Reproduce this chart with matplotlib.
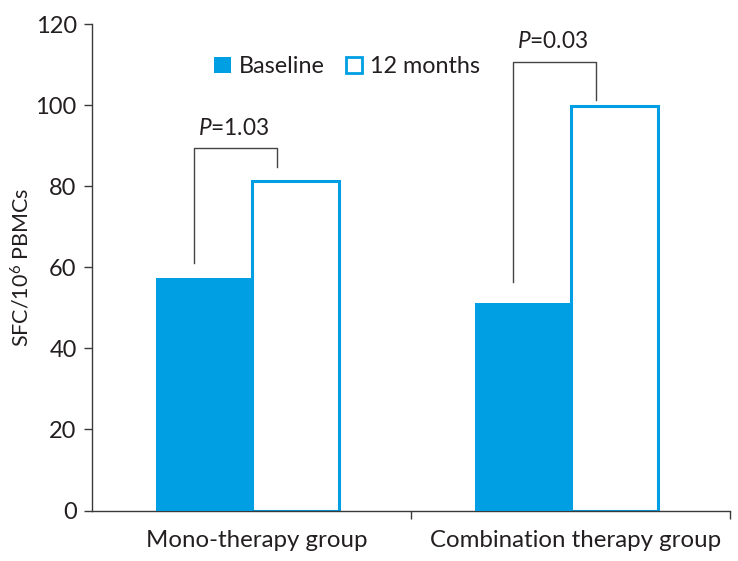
import numpy as np
import matplotlib.pyplot as plt
from matplotlib.patches import Patch

# ----------------------------
# Data
# ----------------------------

groups = ['Mono-therapy group', 'Combination therapy group']
baseline = [57.3, 51.1]
months12 = [81.3, 99.8]
series_names = ['Baseline', '12 months']
p_labels = ['1.03', '0.03']

# bracket levels (left foot, top, right foot) for each group
bracket_left = [61.0, 56.4]
bracket_top = [89.5, 110.6]
bracket_right = [84.7, 101.3]
p_text_y = [94.3, 115.6]

y_ticks = [0, 20, 40, 60, 80, 100, 120]

# ----------------------------
# Style
# ----------------------------

blue = '#009fe3'
dark = '#231f20'
axcol = '#3a3a3a'

plt.rcParams['font.family'] = ['Lato', 'DejaVu Sans']
plt.rcParams['mathtext.fontset'] = 'custom'
plt.rcParams['mathtext.rm'] = 'Lato'
plt.rcParams['mathtext.it'] = 'Lato:italic'

fig = plt.figure(figsize=(7.38, 5.61), dpi=100)
ax = fig.add_axes([92/738, 1-510.5/561, 638/738, 486.5/561])

centers = np.arange(len(groups)) + 0.5
w_base = 0.30
w_12 = 0.275

ax.bar(centers, months12, width=w_12, align='edge', facecolor='white',
       edgecolor=blue, linewidth=2.2, zorder=2)
ax.bar(centers, baseline, width=-w_base, align='edge', color=blue,
       linewidth=0, zorder=3)

# significance brackets
for i, c in enumerate(centers):
    xl = c - 0.18
    xr = c + 0.08
    ax.plot([xl, xl, xr, xr], [bracket_left[i], bracket_top[i], bracket_top[i], bracket_right[i]],
            color='#444444', linewidth=1.0, zorder=4)
    ax.text((xl + xr) / 2 - 0.005, p_text_y[i], '$P$=' + p_labels[i], ha='center', va='center',
            fontsize=16.3, color=dark)

ax.set_xlim(0, 2)
ax.set_ylim(0, 120)
ax.set_yticks(y_ticks)
ax.set_xticks([1, 2])
ax.set_xticklabels([])
# group labels sit a little right of the group centre in the original
ax.set_xticks(centers + 0.016, minor=True)
ax.set_xticklabels(groups, minor=True)

for s in ['top', 'right']:
    ax.spines[s].set_visible(False)
for s in ['left', 'bottom']:
    ax.spines[s].set_color(axcol)
    ax.spines[s].set_linewidth(1.0)

ax.tick_params(axis='both', which='major', direction='out', length=6, width=1.0,
               color=axcol, labelsize=17, labelcolor=dark)
ax.tick_params(axis='y', pad=5)
ax.tick_params(axis='x', which='minor', length=0, pad=14, labelsize=17.3, labelcolor=dark)

ax.set_ylabel('SFC/10$^6$ PBMCs', fontsize=15.5, color=dark, labelpad=2)

handles = [Patch(facecolor=blue, edgecolor=blue, linewidth=0),
           Patch(facecolor='white', edgecolor=blue, linewidth=2.0)]
ax.legend(handles, series_names, loc='center', bbox_to_anchor=(0.40, 0.912), ncol=2,
          frameon=False, fontsize=16.8, handlelength=0.7, handleheight=0.7,
          handletextpad=0.35, columnspacing=0.9, labelcolor=dark)

plt.savefig('out.png', dpi=100)
